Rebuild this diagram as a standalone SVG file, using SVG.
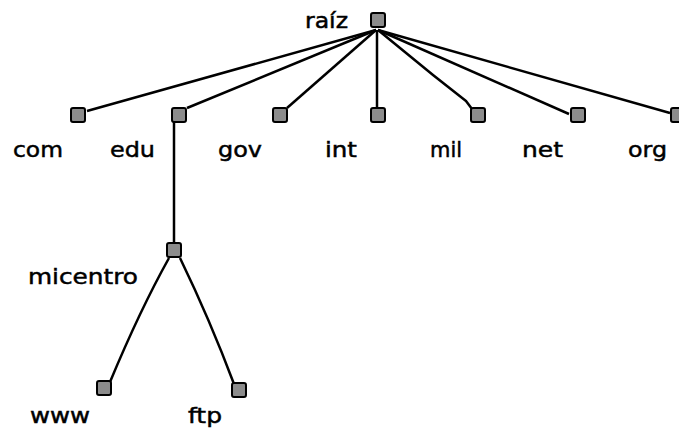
<svg xmlns="http://www.w3.org/2000/svg" width="679" height="428" viewBox="0 0 679 428">
<style>
.n{fill:#8c8c8c;stroke:#000;stroke-width:2}
.c{fill:none;stroke:#000;stroke-width:2.5;stroke-linejoin:round}
text{font-family:"DejaVu Sans","Liberation Sans",sans-serif;font-size:22px;fill:#000;stroke:#000;stroke-width:0.5}
</style>
<rect width="679" height="428" fill="#fff"/>
<g id="connectors">
<path class="c" d="M376,30 L87,111"/>
<path class="c" d="M376,30 L187,108"/>
<path class="c" d="M376,30 L287,108"/>
<path class="c" d="M377,30 L377,108"/>
<path class="c" d="M378,30 L433,75 L466,101 L472,109"/>
<path class="c" d="M378,30 L569,114"/>
<path class="c" d="M378,30 L670,113"/>
<path class="c" d="M174,122 L174,243"/>
<path class="c" d="M169,258 Q140,310 110,382"/>
<path class="c" d="M180,258 Q210,320 234,384"/>
</g>
<g id="raiz"><rect class="n" x="371" y="13" width="14" height="14" rx="2"/><text x="305" y="28" textLength="43" lengthAdjust="spacingAndGlyphs">raíz</text></g>
<g id="com"><rect class="n" x="71" y="108" width="14" height="14" rx="2"/><text x="13" y="157" textLength="50" lengthAdjust="spacingAndGlyphs">com</text></g>
<g id="edu"><rect class="n" x="172" y="108" width="14" height="14" rx="2"/><text x="110" y="157" textLength="45" lengthAdjust="spacingAndGlyphs">edu</text></g>
<g id="gov"><rect class="n" x="273" y="108" width="14" height="14" rx="2"/><text x="218" y="157" textLength="44" lengthAdjust="spacingAndGlyphs">gov</text></g>
<g id="int"><rect class="n" x="371" y="108" width="14" height="14" rx="2"/><text x="325" y="157" textLength="32" lengthAdjust="spacingAndGlyphs">int</text></g>
<g id="mil"><rect class="n" x="471" y="108" width="14" height="14" rx="2"/><text x="430" y="157" textLength="32" lengthAdjust="spacingAndGlyphs">mil</text></g>
<g id="net"><rect class="n" x="571" y="108" width="14" height="14" rx="2"/><text x="522" y="157" textLength="41" lengthAdjust="spacingAndGlyphs">net</text></g>
<g id="org"><rect class="n" x="671" y="108" width="14" height="14" rx="2"/><text x="628" y="157" textLength="39" lengthAdjust="spacingAndGlyphs">org</text></g>
<g id="micentro"><rect class="n" x="167" y="243" width="14" height="14" rx="2"/><text x="28" y="284" textLength="110" lengthAdjust="spacingAndGlyphs">micentro</text></g>
<g id="www"><rect class="n" x="97" y="381" width="14" height="14" rx="2"/><text x="30" y="423" textLength="60" lengthAdjust="spacingAndGlyphs">www</text></g>
<g id="ftp"><rect class="n" x="232" y="383" width="14" height="14" rx="2"/><text x="188" y="423" textLength="34" lengthAdjust="spacingAndGlyphs">ftp</text></g>
</svg>
